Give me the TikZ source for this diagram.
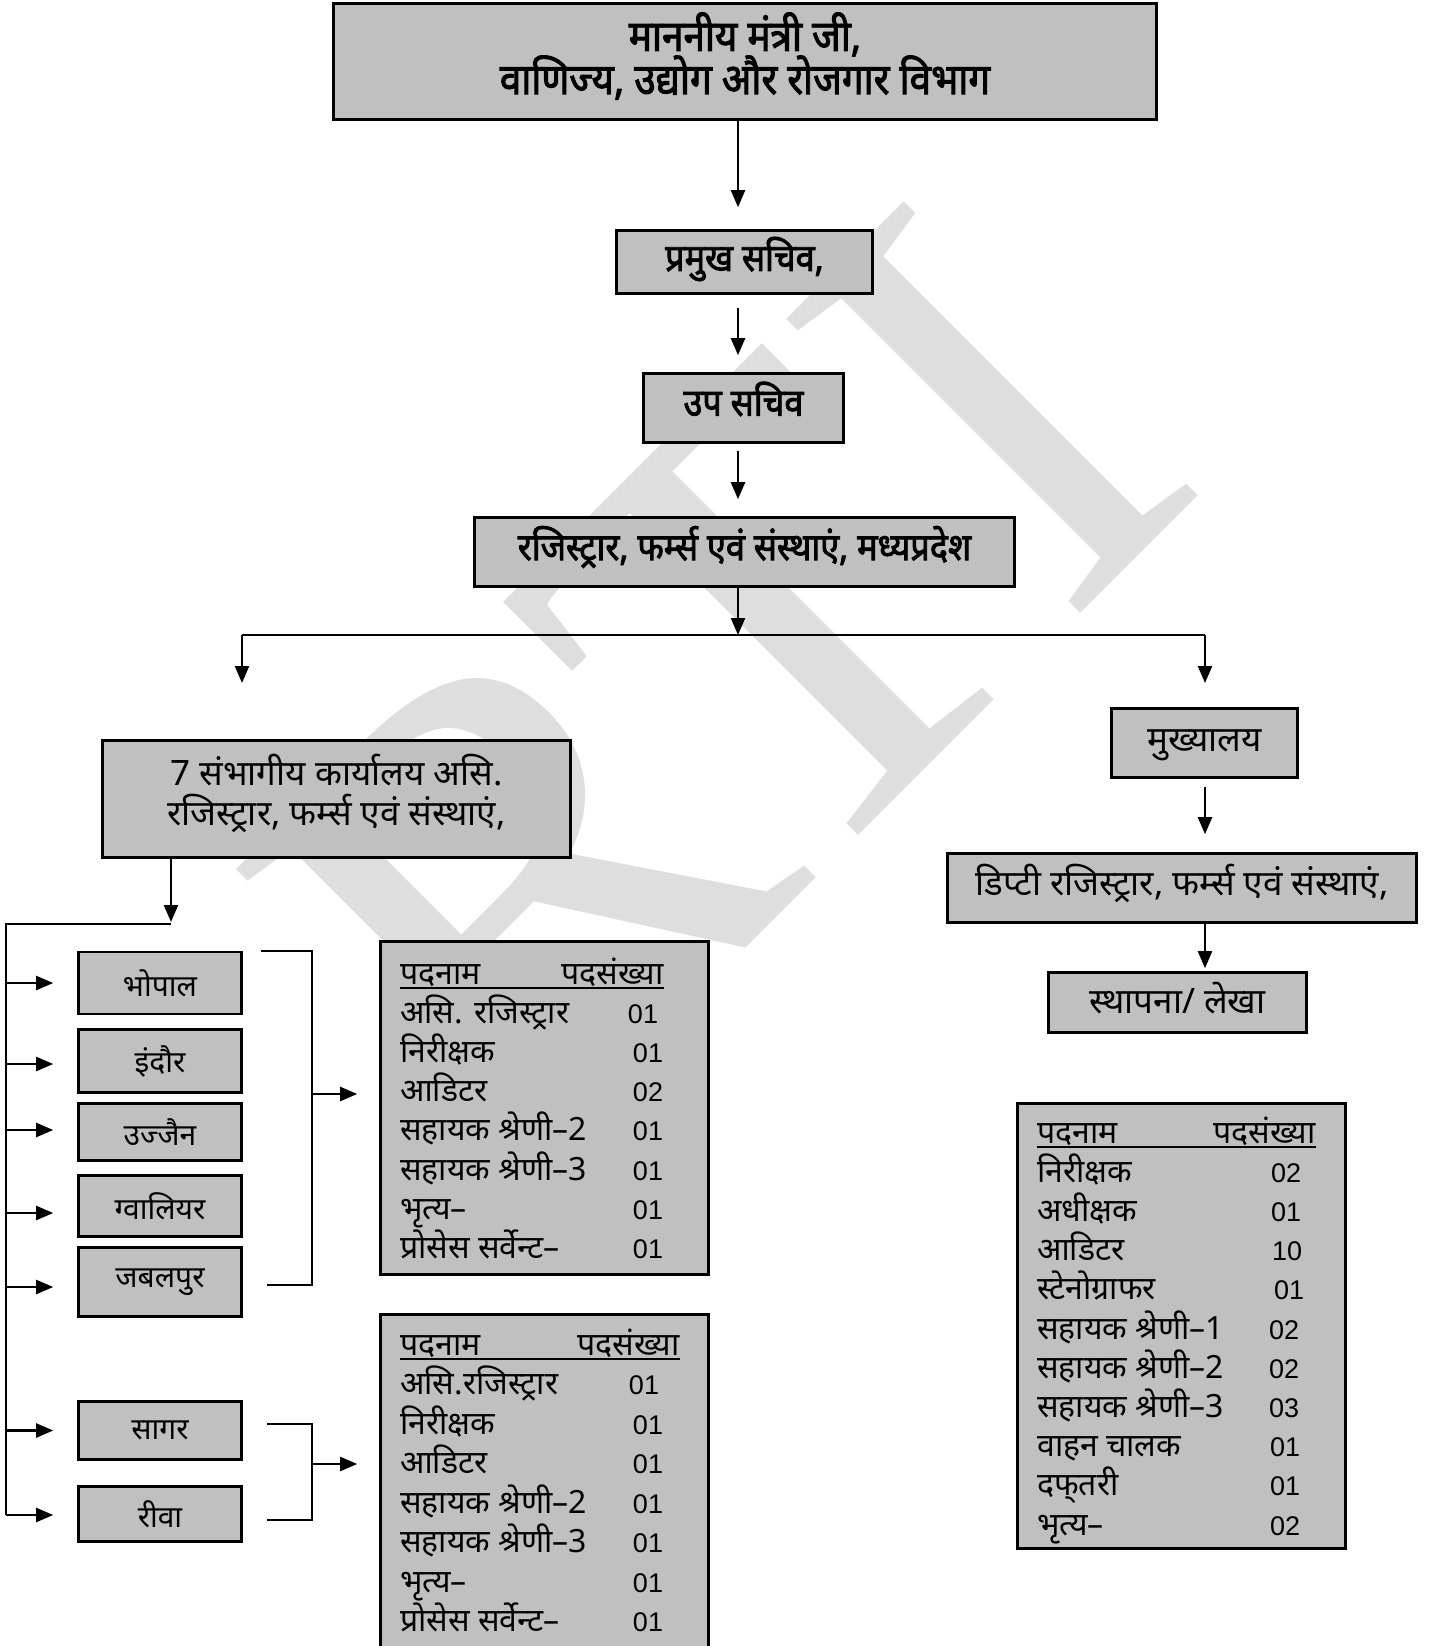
\documentclass[tikz,border=0pt]{standalone}
\usepackage{fontspec}
\usetikzlibrary{arrows.meta}
\setmainfont[Script=Devanagari]{Noto Sans}
\newfontfamily\bfnt[Script=Devanagari,FakeStretch=0.9,FakeBold=2.2]{Noto Sans}
\newfontfamily\numfont{Liberation Sans}
\newfontfamily\wmfont{Liberation Serif}
\definecolor{boxgray}{RGB}{192,192,192}
\definecolor{wmgray}{RGB}{222,222,222}
\tikzset{
  box/.style={draw, line width=2.6pt, fill=boxgray, inner sep=0pt},
  btxt/.style={inner sep=0pt, align=center, font=\bfnt\fontsize{38}{42}\selectfont},
  rtxt/.style={inner sep=0pt, align=center, font=\fontsize{35}{40}\selectfont},
  cbox/.style={box, align=center, font=\fontsize{30}{34}\selectfont, minimum width=163pt},
  ttxt/.style={inner sep=0pt, font=\fontsize{32}{36}\selectfont},
  tnum/.style={inner sep=0pt, font=\numfont\fontsize{27}{30}\selectfont},
  ln/.style={line width=2.2pt},
  uline/.style={line width=1.6pt},
  arr/.style={line width=2.2pt, -{Triangle[length=17pt,width=14pt]}}
}
\begin{document}
\begin{tikzpicture}[x=1pt,y=-1pt]
\useasboundingbox (0,0) rectangle (1438,1646);
\fill[white] (0,0) rectangle (1438,1646);
% watermark
\node[inner sep=0pt, anchor=base west, rotate=45, text=wmgray,
      font=\wmfont\fontsize{635}{635}\selectfont] (wm) at (517,1177) {RTI};

% top chain
\node[box, minimum width=823pt, minimum height=116pt] (top) at (745,61.5) {};
\node[btxt, font=\bfnt\fontsize{43}{44}\selectfont] (topt) at (745,56)
  {माननीय मंत्री जी,\\[-2pt]वाणिज्य, उद्योग और रोजगार विभाग};
\node[box, minimum width=256pt, minimum height=63pt] (b2) at (744.5,262) {};
\node[btxt] (b2t) at (744.5,259) {प्रमुख सचिव,};
\node[box, minimum width=200pt, minimum height=69pt] (b3) at (743.5,408) {};
\node[btxt] (b3t) at (743.5,399) {उप सचिव};
\node[box, minimum width=540pt, minimum height=69pt] (b4) at (744.5,552) {};
\node[btxt] (b4t) at (744.5,547) {रजिस्ट्रार, फर्म्स एवं संस्थाएं, मध्यप्रदेश};

\coordinate (sp) at (738,0);
\draw[arr] (top.south -| sp) -- ([yshift=22pt]b2.north -| sp);
\draw[arr] ([yshift=-13pt]b2.south -| sp) -- ([yshift=17pt]b3.north -| sp);
\draw[arr] ([yshift=-7pt]b3.south -| sp) -- ([yshift=17pt]b4.north -| sp);

\coordinate (jn) at (738,635);
\coordinate (jl) at (242,635);
\coordinate (jr) at (1205,635);
\draw[arr] (b4.south -| sp) -- (jn);
\draw[ln] (jl) -- (jr);

% left branch
\node[box, minimum width=468pt, minimum height=117pt] (lft) at (336.5,799) {};
\node[rtxt] (lftt) at (336.5,793)
  {7 संभागीय कार्यालय असि.\\रजिस्ट्रार, फर्म्स एवं संस्थाएं,};
\coordinate (lt) at (242,683);
\draw[arr] (jl) -- (lt);

% right branch
\node[box, minimum width=186pt, minimum height=69pt] (hq) at (1204.5,743) {};
\node[rtxt] (hqt) at (1204.5,745) {मुख्यालय};
\node[box, minimum width=469pt, minimum height=69pt] (dep) at (1182,888) {};
\node[rtxt] (dept) at (1182,883) {डिप्टी रजिस्ट्रार, फर्म्स एवं संस्थाएं,};
\node[box, minimum width=258pt, minimum height=60pt] (est) at (1177.5,1002.5) {};
\node[rtxt] (estt) at (1177.5,998.5) {स्थापना/ लेखा};
\coordinate (rt) at (1205,683);
\coordinate (rc) at (1205,0);
\draw[arr] (jr) -- (rt);
\draw[arr] ([yshift=-8pt]hq.south -| rc) -- ([yshift=18pt]dep.north -| rc);
\draw[arr] (dep.south -| rc) -- ([yshift=3pt]est.north -| rc);

% cities
\node[cbox, minimum height=62pt] (c1) at (160,983) {भोपाल};
\node[cbox, minimum height=63pt] (c2) at (160,1061) {इंदौर};
\node[cbox, minimum height=57pt] (c3) at (160,1132) {उज्जैन};
\node[cbox, minimum height=61pt] (c4) at (160,1206) {ग्वालियर};
\node[cbox, minimum height=69pt] (c5) at (160,1282) {जबलपुर};
\node[cbox, minimum height=58pt] (c6) at (160,1430.5) {सागर};
\node[cbox, minimum height=55pt] (c7) at (160,1514) {रीवा};

\coordinate (vl) at (6,924);
\coordinate (lj) at (171,924);
\draw[arr] (lft.south -| lj) -- ([yshift=2pt]lj);
\draw[ln] (lj) -- (vl) -- (6,1515) coordinate (vb);
\foreach \c/\dy in {c1/0,c2/-3,c3/2,c4/-7,c5/-5,c6/0,c7/-1}{
  \draw[arr] ([yshift=\dy pt]\c.west -| vl) -- ([yshift=\dy pt, xshift=-24pt]\c.west);
}

% tables
\node[box, minimum width=328pt, minimum height=333pt] (t1) at (544.5,1108) {};
\node[box, minimum width=328pt, minimum height=400pt, anchor=north] (t2) at (544.5,1313) {};
\node[box, minimum width=328pt, minimum height=445pt] (t3) at (1181.5,1326) {};

% brackets
\coordinate (k1t) at (312,951);
\coordinate (k1b) at (312,1285);
\coordinate (k1m) at (312,1094);
\draw[ln] (261,951) -- (k1t) -- (k1b) -- (267,1285);
\draw[arr] (k1m) -- ([xshift=-22pt]t1.west |- k1m);
\coordinate (k2t) at (312,1424);
\coordinate (k2b) at (312,1520);
\coordinate (k2m) at (312,1464);
\draw[ln] (267,1424) -- (k2t) -- (k2b) -- (267,1520);
\draw[arr] (k2m) -- ([xshift=-22pt]t2.west |- k2m);

% table 1 text
\node[ttxt, anchor=base west] (t1ha) at (400,984) {पदनाम};
\node[ttxt, anchor=base east] (t1hb) at (664,984) {पदसंख्या};
\draw[uline] (400,988) -- (664,988);
\foreach \r/\n/\x [count=\i] in {असि. रजिस्ट्रार/01/643, निरीक्षक/01/648, आडिटर/02/648,
  सहायक श्रेणी–2/01/648, सहायक श्रेणी–3/01/648, भृत्य–/01/648, प्रोसेस सर्वेन्ट–/01/648}{
  \node[ttxt, anchor=base west] (t1r\i) at (400,984+39.2*\i) {\r};
  \node[tnum, anchor=base] (t1n\i) at (\x,984+39.2*\i) {\n};
}

% table 2 text
\node[ttxt, anchor=base west] (t2ha) at (400,1355) {पदनाम};
\node[ttxt, anchor=base east] (t2hb) at (680,1355) {पदसंख्या};
\draw[uline] (400,1359) -- (680,1359);
\foreach \r/\n/\x [count=\i] in {असि.रजिस्ट्रार/01/644, निरीक्षक/01/648, आडिटर/01/648,
  सहायक श्रेणी–2/01/648, सहायक श्रेणी–3/01/648, भृत्य–/01/648, प्रोसेस सर्वेन्ट–/01/648}{
  \node[ttxt, anchor=base west] (t2r\i) at (400,1355+39.5*\i) {\r};
  \node[tnum, anchor=base] (t2n\i) at (\x,1355+39.5*\i) {\n};
}

% table 3 text
\node[ttxt, anchor=base west] (t3ha) at (1037,1143) {पदनाम};
\node[ttxt, anchor=base east] (t3hb) at (1316,1143) {पदसंख्या};
\draw[uline] (1037,1147) -- (1316,1147);
\foreach \r/\n/\x [count=\i] in {निरीक्षक/02/1286, अधीक्षक/01/1286, आडिटर/10/1287,
  स्टेनोग्राफर/01/1289, सहायक श्रेणी–1/02/1284, सहायक श्रेणी–2/02/1284,
  सहायक श्रेणी–3/03/1284, वाहन चालक/01/1285, दफ्^^^^200cतरी/01/1285, भृत्य–/02/1285}{
  \node[ttxt, anchor=base west] (t3r\i) at (1037,1143+39.2*\i) {\r};
  \node[tnum, anchor=base] (t3n\i) at (\x,1143+39.2*\i) {\n};
}
\end{tikzpicture}
\end{document}
